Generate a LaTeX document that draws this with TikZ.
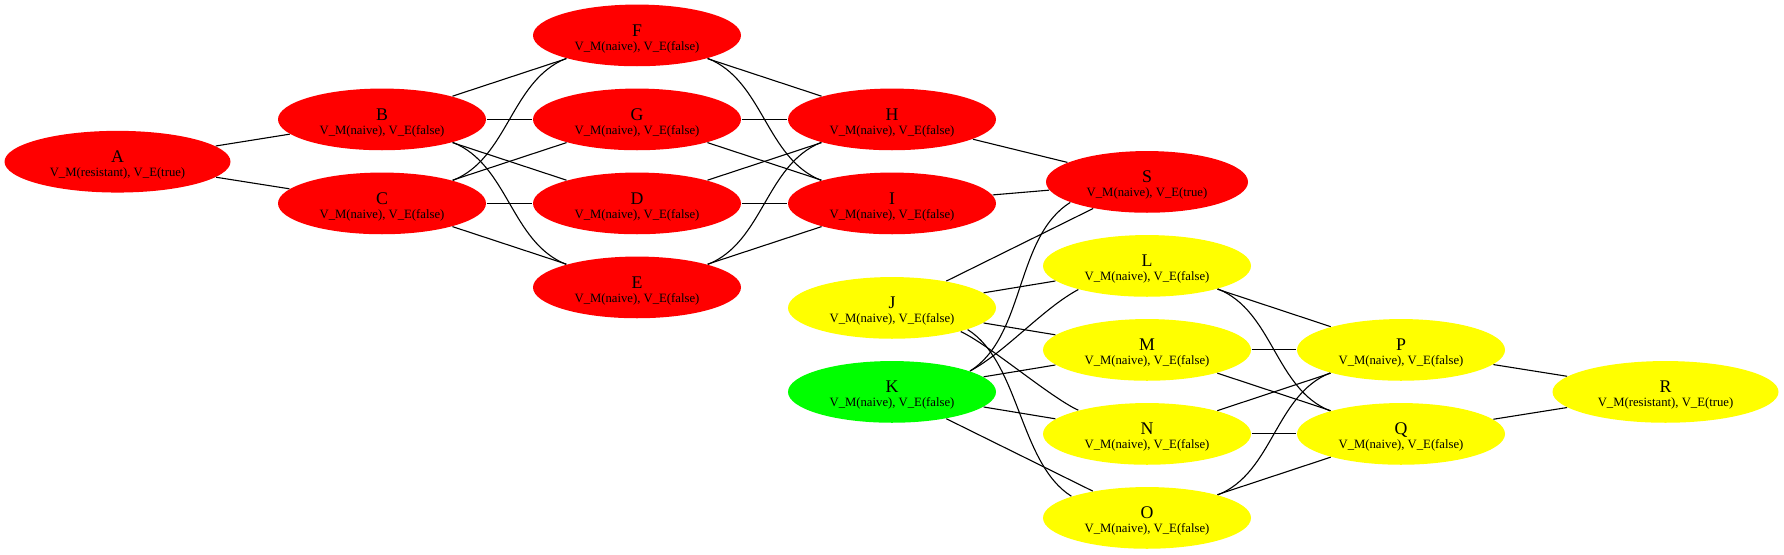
\documentclass[tikz,border=0pt]{standalone}
\usepackage{fontspec}
\setmainfont{Liberation Serif}
\usepackage{xcolor}
\usepackage{tikz}
\usetikzlibrary{positioning,shapes.geometric}

\definecolor{statered}{RGB}{255,0,0}
\definecolor{stateyellow}{RGB}{255,255,0}
\definecolor{stategreen}{RGB}{0,255,0}
\newcommand{\vlabel}[2]{\makebox[0pt]{\raisebox{-1pt}[0pt][0pt]{\fontsize{17.8}{18}\selectfont #1}}%
  \makebox[0pt]{\raisebox{-14.8pt}[0pt][0pt]{\fontsize{12.7}{13}\selectfont #2}}}

\begin{document}
\begin{tikzpicture}[x=1pt,y=-1pt,line width=1.1pt,
    every node/.style={on grid},
    state/.style={ellipse,inner sep=0pt,minimum width=208pt,minimum height=61.7pt},
    redstate/.style={state,fill=statered},
    yellowstate/.style={state,fill=stateyellow},
    greenstate/.style={state,fill=stategreen},
    wide/.style={minimum width=226pt},
    narrow/.style={minimum width=202pt}]
    \useasboundingbox[fill=white] (0,0) rectangle (1784,554);
    \node[redstate,wide] (A) at (117.5,161.7) {\vlabel{A}{V\_M(resistant), V\_E(true)}};
    \node[redstate,above right=42.3pt and 264.5pt of A] (B) {\vlabel{B}{V\_M(naive), V\_E(false)}};
    \node[redstate,below=84pt of B] (C) {\vlabel{C}{V\_M(naive), V\_E(false)}};
    \node[redstate,right=255pt of B] (G) {\vlabel{G}{V\_M(naive), V\_E(false)}};
    \node[redstate,above=84pt of G] (F) {\vlabel{F}{V\_M(naive), V\_E(false)}};
    \node[redstate,right=255pt of C] (D) {\vlabel{D}{V\_M(naive), V\_E(false)}};
    \node[redstate,below=84pt of D] (E) {\vlabel{E}{V\_M(naive), V\_E(false)}};
    \node[redstate,right=255pt of G] (H) {\vlabel{H}{V\_M(naive), V\_E(false)}};
    \node[redstate,right=255pt of D] (I) {\vlabel{I}{V\_M(naive), V\_E(false)}};
    \node[redstate,narrow,above right=21.5pt and 255pt of I] (S) {\vlabel{S}{V\_M(naive), V\_E(true)}};
    \node[yellowstate,below=84pt of S] (L) {\vlabel{L}{V\_M(naive), V\_E(false)}};
    \node[yellowstate,below=84pt of L] (M) {\vlabel{M}{V\_M(naive), V\_E(false)}};
    \node[yellowstate,below=84pt of M] (N) {\vlabel{N}{V\_M(naive), V\_E(false)}};
    \node[yellowstate,below=84pt of N] (O) {\vlabel{O}{V\_M(naive), V\_E(false)}};
    \node[yellowstate,below left=42pt and 255pt of L] (J) {\vlabel{J}{V\_M(naive), V\_E(false)}};
    \node[greenstate,below=84pt of J] (K) {\vlabel{K}{V\_M(naive), V\_E(false)}};
    \node[yellowstate,right=254pt of M] (P) {\vlabel{P}{V\_M(naive), V\_E(false)}};
    \node[yellowstate,right=254pt of N] (Q) {\vlabel{Q}{V\_M(naive), V\_E(false)}};
    \node[yellowstate,wide,below right=42pt and 264.5pt of P] (R) {\vlabel{R}{V\_M(resistant), V\_E(true)}};
    \draw (A) -- (B);
    \draw (A) -- (C);
    \draw (B) -- (F);
    \draw (B) -- (G);
    \draw (B) -- (D);
    \draw (B.-18) to[out=-22,in=158,looseness=0.92] (E.162);
    \draw (C.18) to[out=22,in=202,looseness=0.92] (F.198);
    \draw (C) -- (G);
    \draw (C) -- (D);
    \draw (C) -- (E);
    \draw (F) -- (H);
    \draw (F.-18) to[out=-22,in=158,looseness=0.92] (I.162);
    \draw (G) -- (H);
    \draw (G) -- (I);
    \draw (D) -- (H);
    \draw (D) -- (I);
    \draw (E.18) to[out=22,in=202,looseness=0.92] (H.198);
    \draw (E) -- (I);
    \draw (H) -- (S);
    \draw (I) -- (S);
    \draw (J) -- (S);
    \draw (K.15) to[out=32,in=212,looseness=0.85] (S.195);
    \draw (J) -- (L);
    \draw (J) -- (M);
    \draw (J.-19) to[out=-25,in=155,looseness=0.57] (N.161);
    \draw (J.-16) to[out=-32,in=148,looseness=0.8] (O.164);
    \draw (K.15) to[out=28,in=208,looseness=0.75] (L.199);
    \draw (K) -- (M);
    \draw (K) -- (N);
    \draw (K) -- (O);
    \draw (L) -- (P);
    \draw (L.-18) to[out=-22,in=158,looseness=0.92] (Q.162);
    \draw (M) -- (P);
    \draw (M) -- (Q);
    \draw (N) -- (P);
    \draw (N) -- (Q);
    \draw (O.18) to[out=22,in=202,looseness=0.92] (P.198);
    \draw (O) -- (Q);
    \draw (P) -- (R);
    \draw (Q) -- (R);
  \end{tikzpicture}
\end{document}
